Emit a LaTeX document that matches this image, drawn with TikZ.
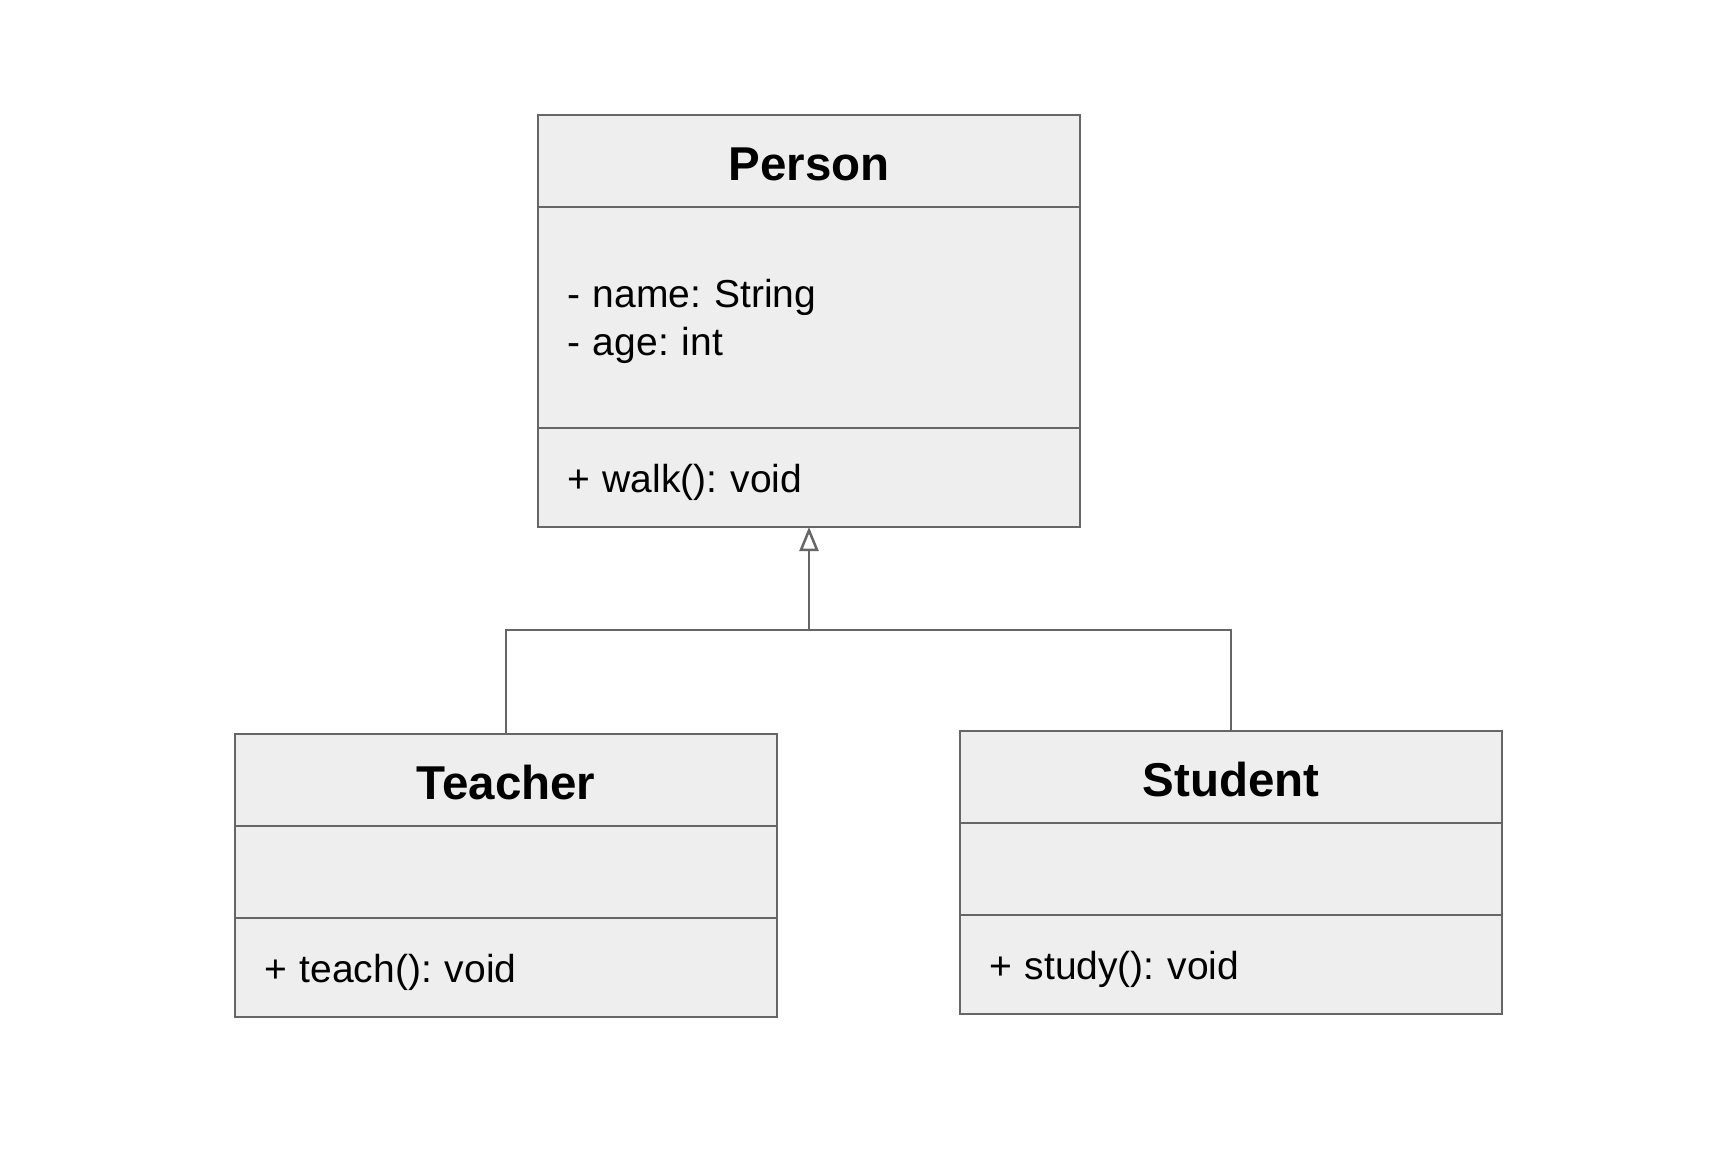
\documentclass[tikz,border=0pt]{standalone}
\usepackage{fontspec}
\setmainfont{Liberation Sans}
\frenchspacing
\usetikzlibrary{
    arrows.meta,
    positioning
}
\definecolor{umlLine}{RGB}{102,102,102}
\definecolor{umlFill}{RGB}{238,238,238}
\tikzset{
  head/.style  = {draw=umlLine, fill=umlFill, line width=2.5pt, outer sep=0pt,
                  minimum width=542pt, minimum height=92pt, inner sep=0pt,
                  text height=38pt, text depth=0pt,
                  font=\fontsize{47.5}{56}\selectfont\bfseries},
  part/.style  = {draw=umlLine, fill=umlFill, line width=2.5pt, outer sep=0pt,
                  inner xsep=29pt, inner ysep=0pt, text width=484pt,
                  text height=33pt, text depth=4pt,
                  align=left, font=\fontsize{39}{48}\selectfont},
  link/.style  = {draw=umlLine, line width=2.5pt},
  inh/.style   = {link, -{Triangle[open, length=24pt, width=19pt]}}
}

\begin{document}
\begin{tikzpicture}[x=1pt, y=-1pt]
\useasboundingbox (0,0) rectangle (1719,1156);

% Person
\node[head] (pHead) at (809,161) {Person};
\node[part, minimum height=221pt, text height=31pt, text depth=52pt,
    below=0pt of pHead] (pAttr) {- name: String\\- age: int};
\node[part, minimum height=99pt, below=0pt of pAttr] (pMeth)
    {+ walk(): void};

% Teacher
\node[head] (tHead) at (506,780) {Teacher};
\node[part, minimum height=92pt, below=0pt of tHead] (tAttr) {};
\node[part, minimum height=99pt, below=0pt of tAttr] (tMeth)
    {+ teach(): void};

% Student
\node[head] (sHead) at (1231,777) {Student};
\node[part, minimum height=92pt, below=0pt of sHead] (sAttr) {};
\node[part, minimum height=99pt, below=0pt of sAttr] (sMeth)
    {+ study(): void};

% inheritance
\coordinate[below=103pt of pMeth.south] (join);
\draw[inh] (tHead.north) |- (join) -- (pMeth.south);
\draw[link] (sHead.north) |- (join);

\end{tikzpicture}
\end{document}
